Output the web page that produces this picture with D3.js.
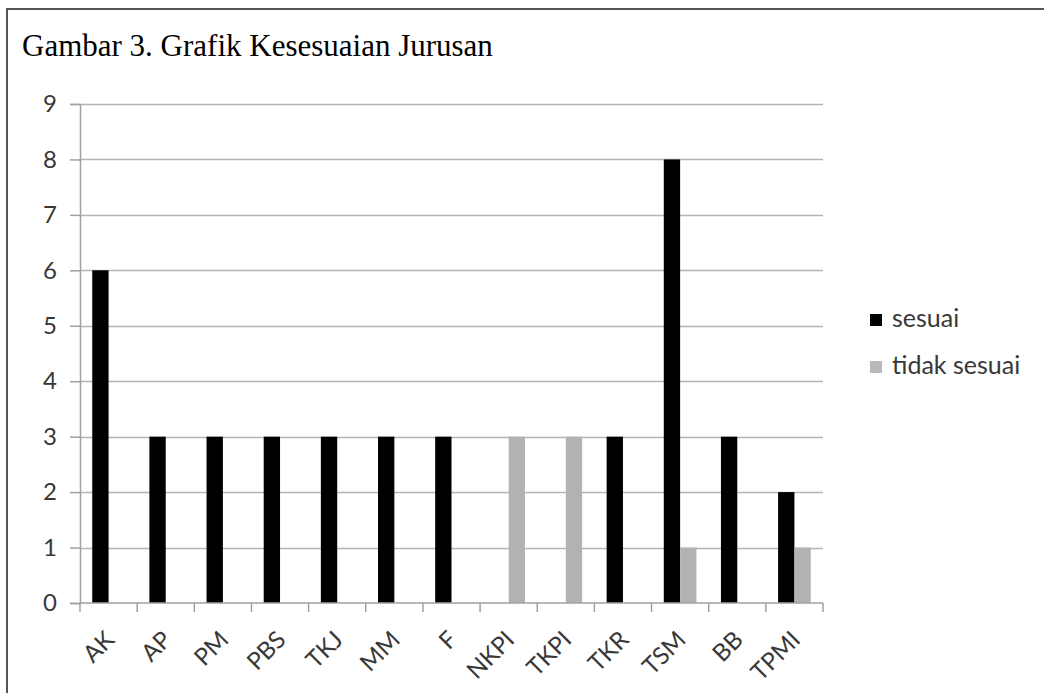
<!DOCTYPE html>
<html><head><meta charset="utf-8">
<script src="https://cdn.jsdelivr.net/npm/d3@7"></script>
<style>html,body{margin:0;padding:0;background:#fff;}svg{display:block;}</style>
</head><body>
<svg id="c" width="1044" height="693"></svg>
<script>
const categories = ["AK","AP","PM","PBS","TKJ","MM","F","NKPI","TKPI","TKR","TSM","BB","TPMI"];
const sesuai     = [6,3,3,3,3,3,3,0,0,3,8,3,2];
const tidakSesuai= [0,0,0,0,0,0,0,3,3,0,1,0,1];
const seriesNames = ["sesuai","tidak sesuai"];
const yTicks = [0,1,2,3,4,5,6,7,8,9];
const title = "Gambar 3. Grafik Kesesuaian Jurusan";

const svg = d3.select("#c");
const colors = {"sesuai":"#000000","tidak sesuai":"#b2b2b2"};
const legendColors = {"sesuai":"#000000","tidak sesuai":"#b8b8b8"};
const font = "Lato, 'Liberation Sans', sans-serif";
const textCol = "#383838";

// frame
svg.append("line").attr("x1",7).attr("x2",1044).attr("y1",9).attr("y2",9).attr("stroke","#555").attr("stroke-width",2);
svg.append("line").attr("x1",7).attr("x2",7).attr("y1",8).attr("y2",693).attr("stroke","#555").attr("stroke-width",2);

svg.append("text").attr("x",22).attr("y",56).attr("font-family","'Liberation Serif', 'Times New Roman', serif")
  .attr("font-size",31).attr("fill","#000").text(title);

const x = d3.scaleBand().domain(categories).range([80,823]).paddingInner(0).paddingOuter(0);
const xs = d3.scaleBand().domain(seriesNames).range([0,x.bandwidth()]).paddingInner(0).paddingOuter(0.75);
const y = d3.scaleLinear().domain([0,9]).range([603,104]);

// gridlines
svg.append("g").selectAll("line").data(yTicks.filter(d=>d>0)).join("line")
  .attr("x1",80).attr("x2",823).attr("y1",d=>Math.round(y(d))+0.5).attr("y2",d=>Math.round(y(d))+0.5)
  .attr("stroke","#b4b4b4").attr("stroke-width",1.5);

const data = categories.map((c,i)=>({cat:c, vals:[{s:"sesuai",v:sesuai[i]},{s:"tidak sesuai",v:tidakSesuai[i]}]}));
svg.append("g").selectAll("g").data(data).join("g")
  .attr("transform",d=>`translate(${x(d.cat)},0)`)
  .selectAll("rect").data(d=>d.vals.filter(e=>e.v>0)).join("rect")
  .attr("x",d=>xs(d.s)).attr("width",xs.bandwidth())
  .attr("y",d=>y(d.v)).attr("height",d=>y(0)-y(d.v))
  .attr("fill",d=>colors[d.s]);

// y axis
const yAxis = d3.axisLeft(y).tickValues(yTicks).tickSize(10).tickPadding(13).tickFormat(d3.format("d"));
const gy = svg.append("g").attr("transform","translate(80,0)").call(yAxis);
gy.select(".domain").attr("stroke","#a0a0a0").attr("stroke-width",1.5);
gy.selectAll(".tick line").attr("stroke","#a0a0a0").attr("stroke-width",1.5);
gy.selectAll("text").attr("font-family",font).attr("font-size",24).attr("fill",textCol);

// x axis: ticks at band boundaries
const boundaries = categories.map(c=>x(c)).concat([x.range()[1]]);
const gx = svg.append("g");
gx.append("line").attr("x1",80).attr("x2",823).attr("y1",y(0)).attr("y2",y(0)).attr("stroke","#a0a0a0").attr("stroke-width",1.5);
gx.selectAll("line.t").data(boundaries).join("line").attr("class","t")
  .attr("x1",d=>d).attr("x2",d=>d).attr("y1",y(0)).attr("y2",y(0)+9).attr("stroke","#a0a0a0").attr("stroke-width",1.5);
gx.selectAll("text").data(categories).join("text")
  .attr("transform",d=>`translate(${x(d)+x.bandwidth()/2-5},${y(0)+26}) rotate(-45)`)
  .attr("text-anchor","end").attr("dy","0.72em")
  .attr("font-family",font).attr("font-size",24).attr("fill",textCol).text(d=>d);

// legend
const lg = svg.append("g").selectAll("g").data(seriesNames).join("g")
  .attr("transform",(d,i)=>`translate(870,${314+i*47})`);
lg.append("rect").attr("width",12).attr("height",12).attr("fill",d=>legendColors[d]);
lg.append("text").attr("x",22).attr("y",13).attr("font-family",font).attr("font-size",25).attr("fill",textCol).text(d=>d);
</script>
</body></html>
